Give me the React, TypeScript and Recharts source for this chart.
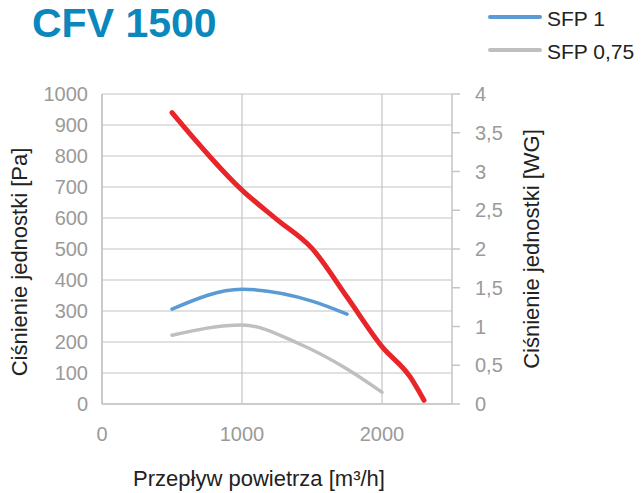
import React from "react";
import {
  LineChart,
  Line,
  XAxis,
  YAxis,
  CartesianGrid,
  Legend,
} from "recharts";

// fan curve (Pa) and the two SFP limit curves
const fanFlow = [500, 1000, 1250, 1500, 1750, 2000, 2200, 2300];
const fanPressure = [940, 690, 595, 502, 345, 185, 88, 12];

const sfp1Flow = [500, 1000, 1500, 1750];
const sfp1Pressure = [306, 370, 332, 290];

const sfp075Flow = [500, 1000, 1400, 1750, 2000];
const sfp075Pressure = [222, 255, 196, 113, 38];

const xTicks = [0, 1000, 2000];
const paTicks = [0, 100, 200, 300, 400, 500, 600, 700, 800, 900, 1000];
const wgTicks = [0, 0.5, 1, 1.5, 2, 2.5, 3, 3.5, 4];
const legendOrder = ["SFP 1", "SFP 0,75"];

const toRows = (flow: number[], p: number[]) =>
  flow.map((f, i) => ({ flow: f, p: p[i] }));

const fanData = toRows(fanFlow, fanPressure);
const sfp1Data = toRows(sfp1Flow, sfp1Pressure);
const sfp075Data = toRows(sfp075Flow, sfp075Pressure);

const FONT = "'Liberation Sans', Arial, Helvetica, sans-serif";
const GRID = "#c4c4c4";
const tickStyle = { fontSize: 20, fill: "#9a9a9a", fontFamily: FONT };

const AxisTitle = ({ viewBox, text, offX = 0, offY = 0, rot = 0, side }: any) => {
  const { x, y, width, height } = viewBox;
  let cx = x + width / 2 + offX;
  let cy = y + height / 2 + offY;
  if (side === "left" || side === "right") cx = x + offX;
  if (side === "bottom") cy = y + offY;
  return (
    <text
      x={cx}
      y={cy}
      transform={rot ? `rotate(${rot} ${cx} ${cy})` : undefined}
      textAnchor="middle"
      dominantBaseline="central"
      fontSize={22}
      fill="#222"
      fontFamily={FONT}
    >
      {text}
    </text>
  );
};

const renderLegend = ({ payload }: any) => {
  const items = legendOrder
    .map((name) => payload.find((e: any) => e.value === name))
    .filter(Boolean);
  return (
    <div style={{ fontFamily: FONT, fontSize: 21, color: "#222" }}>
      {items.map((entry: any) => (
        <div
          key={entry.value}
          style={{ display: "flex", alignItems: "center", height: 33 }}
        >
          <span
            style={{
              display: "inline-block",
              width: 54,
              height: 4,
              borderRadius: 2,
              background: entry.color,
            }}
          />
          <span style={{ marginLeft: 5, position: "relative", top: 2 }}>
            {entry.value}
          </span>
        </div>
      ))}
    </div>
  );
};

export default function App() {
  return (
    <div
      style={{
        position: "absolute",
        left: 0,
        top: 0,
        width: 644,
        height: 493,
        background: "#fff",
      }}
    >
      <div
        style={{
          position: "absolute",
          left: 32,
          top: 3,
          fontFamily: FONT,
          fontWeight: "bold",
          fontSize: 41,
          lineHeight: 1,
          color: "#0a88bd",
        }}
      >
        CFV 1500
      </div>
      <LineChart
        width={644}
        height={493}
        margin={{ top: 94, right: 0, bottom: 0, left: 0 }}
      >
        <CartesianGrid
          yAxisId="left"
          stroke={GRID}
          strokeWidth={1.2}
          verticalValues={xTicks}
        />
        <XAxis
          type="number"
          dataKey="flow"
          domain={[0, 2500]}
          ticks={xTicks}
          height={89}
          tick={tickStyle}
          tickLine={false}
          tickMargin={17}
          axisLine={{ stroke: GRID, strokeWidth: 1.5 }}
          allowDuplicatedCategory={false}
          label={<AxisTitle text="Przepływ powietrza [m³/h]" side="bottom" offX={-18} offY={74} />}
        />
        <YAxis
          yAxisId="left"
          domain={[0, 1000]}
          ticks={paTicks}
          width={102}
          tick={tickStyle}
          tickLine={false}
          tickMargin={8}
          axisLine={{ stroke: GRID, strokeWidth: 1.5 }}
          label={
            <AxisTitle
              text="Ciśnienie jednostki [Pa]"
              side="left"
              offX={19}
              offY={13}
              rot={-90}
            />
          }
        />
        <YAxis
          yAxisId="right"
          orientation="right"
          type="number"
          domain={[0, 4]}
          allowDataOverflow
          ticks={wgTicks}
          width={192}
          tick={tickStyle}
          tickSize={8}
          tickMargin={15}
          tickLine={{ stroke: GRID, strokeWidth: 1.5 }}
          axisLine={{ stroke: GRID, strokeWidth: 1.5 }}
          tickFormatter={(v: number) => String(v).replace(".", ",")}
          label={
            <AxisTitle
              text="Ciśnienie jednostki [WG]"
              side="right"
              offX={79}
              offY={0}
              rot={-90}
            />
          }
        />
        <Legend
          layout="vertical"
          align="center"
          verticalAlign="middle"
          content={renderLegend}
          wrapperStyle={{ position: "absolute", top: 0, left: 488, width: 156 }}
        />
        <Line
          yAxisId="left"
          data={fanData}
          dataKey="p"
          name="Fan"
          type="monotone"
          stroke="#e8262a"
          strokeWidth={5}
          strokeLinecap="round"
          dot={false}
          legendType="none"
          isAnimationActive={false}
        />
        <Line
          yAxisId="left"
          data={sfp1Data}
          dataKey="p"
          name="SFP 1"
          type="monotone"
          stroke="#5b9bd5"
          strokeWidth={3.5}
          strokeLinecap="round"
          dot={false}
          isAnimationActive={false}
        />
        <Line
          yAxisId="left"
          data={sfp075Data}
          dataKey="p"
          name="SFP 0,75"
          type="monotone"
          stroke="#bfbfbf"
          strokeWidth={3.5}
          strokeLinecap="round"
          dot={false}
          isAnimationActive={false}
        />
      </LineChart>
    </div>
  );
}
